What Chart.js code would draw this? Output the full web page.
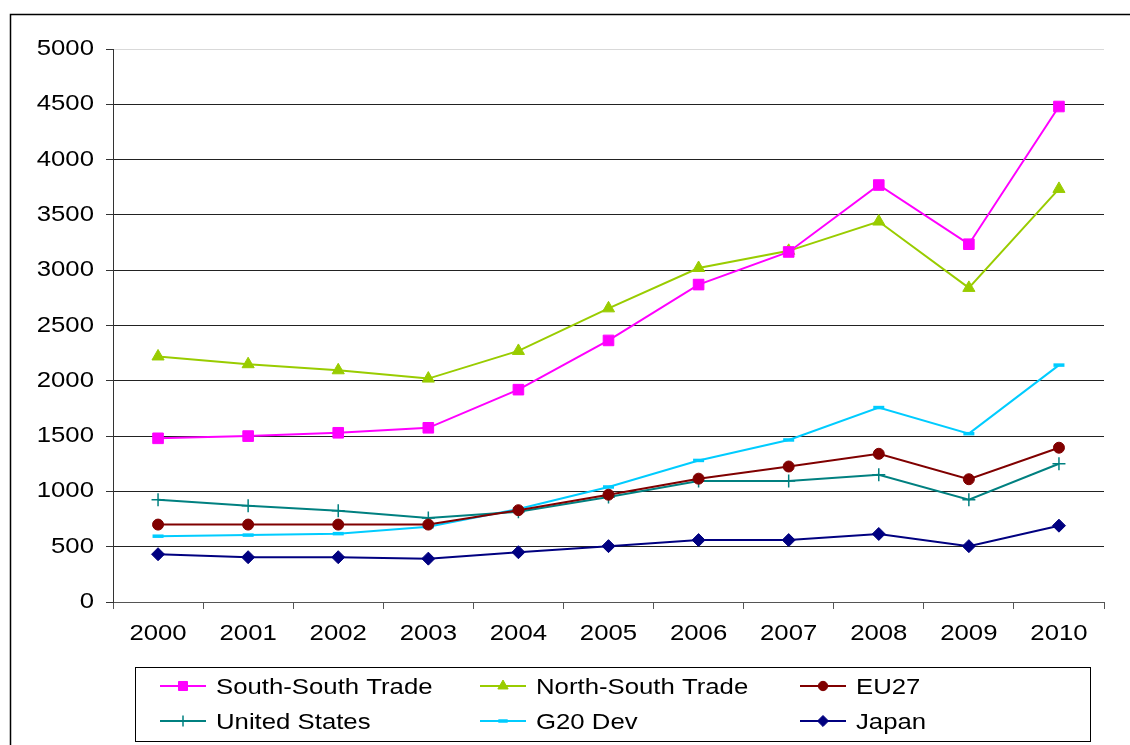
<!DOCTYPE html>
<html>
<head>
<meta charset="utf-8">
<script src="https://cdn.jsdelivr.net/npm/chart.js@4/dist/chart.umd.min.js"></script>
<style>
  html, body { margin: 0; padding: 0; background: #fff; }
  #wrap { position: relative; width: 1130px; height: 745px; }
</style>
</head>
<body>
<div id="wrap"><canvas id="c" width="1130" height="745"></canvas></div>
<script>
const years = ['2000','2001','2002','2003','2004','2005','2006','2007','2008','2009','2010'];
const southSouth = [1480, 1500, 1530, 1575, 1920, 2365, 2870, 3165, 3770, 3235, 4480];
const northSouth = [2220, 2150, 2095, 2020, 2270, 2655, 3020, 3175, 3440, 2840, 3735];
const eu27 = [700, 700, 700, 700, 830, 970, 1115, 1225, 1340, 1110, 1395];
const unitedStates = [925, 870, 825, 760, 815, 950, 1095, 1095, 1150, 925, 1250];
const g20Dev = [595, 605, 618, 680, 840, 1040, 1280, 1465, 1758, 1522, 2142];
const japan = [432, 405, 405, 392, 450, 505, 560, 560, 615, 505, 690];
const yTicks = [0, 500, 1000, 1500, 2000, 2500, 3000, 3500, 4000, 4500, 5000];

const FONT = '"Liberation Sans", Arial, sans-serif';
const TEXT_SIZE = 22;
const STRETCH = 1.17;

function ds(label, data, color, style, radius, pbw) {
  return {
    label, data,
    borderColor: color, backgroundColor: color,
    pointBackgroundColor: color, pointBorderColor: color,
    pointStyle: style, pointRadius: radius, pointHoverRadius: radius,
    pointBorderWidth: pbw, borderWidth: 2, tension: 0, fill: false
  };
}

const datasets = [
  ds('South-South Trade', southSouth, '#FF00FF', 'rect', 7.5, 1),
  ds('North-South Trade', northSouth, '#99CC00', 'triangle', 7, 1),
  ds('EU27', eu27, '#800000', 'circle', 5.5, 1),
  ds('United States', unitedStates, '#008080', 'cross', 6.5, 1.5),
  ds('G20 Dev', g20Dev, '#00CCFF', 'line', 5.5, 3.5),
  ds('Japan', japan, '#000080', 'rectRot', 6.5, 1)
];

function stretchedText(ctx, text, x, y, align) {
  ctx.save();
  ctx.translate(x, y);
  ctx.scale(STRETCH, 1);
  ctx.font = TEXT_SIZE + 'px ' + FONT;
  ctx.textAlign = align;
  ctx.textBaseline = 'middle';
  ctx.fillStyle = '#000';
  ctx.fillText(text, 0, 0);
  ctx.restore();
}

const framePlugin = {
  id: 'frame',
  beforeDraw(chart) {
    const ctx = chart.ctx;
    ctx.save();
    ctx.fillStyle = '#fff';
    ctx.fillRect(0, 0, chart.width, chart.height);
    ctx.strokeStyle = '#000';
    ctx.lineWidth = 1.5;
    ctx.beginPath();
    ctx.moveTo(10.5, 745);
    ctx.lineTo(10.5, 14.5);
    ctx.lineTo(1130, 14.5);
    ctx.stroke();
    ctx.restore();
  }
};

const tickLabelPlugin = {
  id: 'tickLabels',
  afterDraw(chart) {
    const ctx = chart.ctx;
    const ys = chart.scales.y;
    ys.ticks.forEach((t, i) => {
      const py = ys.getPixelForTick(i);
      stretchedText(ctx, String(t.value), 94, py, 'right');
    });
    const xs = chart.scales.x;
    xs.ticks.forEach((t, i) => {
      const px = xs.getPixelForTick(i);
      stretchedText(ctx, chart.data.labels[i], px, 634, 'center');
    });
  }
};

function drawMarker(ctx, d, x, y) {
  ctx.save();
  ctx.fillStyle = d.pointBackgroundColor;
  ctx.strokeStyle = d.pointBorderColor;
  ctx.lineWidth = d.pointBorderWidth;
  if (Chart.helpers && Chart.helpers.drawPoint) {
    Chart.helpers.drawPoint(ctx, {
      pointStyle: d.pointStyle, rotation: 0,
      radius: d.pointRadius * 0.85, borderWidth: d.pointBorderWidth
    }, x, y);
  }
  ctx.restore();
}

const legendPlugin = {
  id: 'customLegend',
  afterDraw(chart) {
    const ctx = chart.ctx;
    ctx.save();
    ctx.strokeStyle = '#000';
    ctx.lineWidth = 1;
    ctx.strokeRect(135.5, 667.5, 955, 74);
    const colX = [160, 480, 800];
    const rowY = [686, 721];
    chart.data.datasets.forEach((d, i) => {
      const x = colX[i % 3];
      const y = rowY[Math.floor(i / 3)];
      ctx.strokeStyle = d.borderColor;
      ctx.lineWidth = 2;
      ctx.beginPath();
      ctx.moveTo(x, y);
      ctx.lineTo(x + 46, y);
      ctx.stroke();
      drawMarker(ctx, d, x + 23, y);
      stretchedText(ctx, d.label, x + 56, y + 1.5, 'left');
    });
    ctx.restore();
  }
};

new Chart(document.getElementById('c'), {
  type: 'line',
  data: { labels: years, datasets },
  options: {
    responsive: false,
    animation: false,
    layout: { padding: { top: 49, right: 26, bottom: 93, left: 0 } },
    plugins: { legend: { display: false }, tooltip: { enabled: false } },
    scales: {
      x: {
        type: 'category',
        offset: true,
        afterFit(scale) { scale.height = 50; },
        grid: {
          offset: true, drawOnChartArea: false, drawTicks: true,
          tickLength: 7, color: '#555', tickColor: '#555'
        },
        border: { display: true, color: '#555', width: 1 },
        ticks: { color: 'rgba(0,0,0,0)', font: { family: FONT, size: 20 }, padding: 10, maxRotation: 0, autoSkip: false }
      },
      y: {
        min: 0, max: 5000,
        afterFit(scale) { scale.width = 113; },
        afterBuildTicks(scale) { scale.ticks = yTicks.map(v => ({ value: v })); },
        grid: {
          color: (c) => (c.tick && c.tick.value === 5000) ? '#d9d9d9' : '#222',
          tickColor: '#333', tickLength: 7, lineWidth: 1
        },
        border: { display: true, color: '#333', width: 1 },
        ticks: { color: 'rgba(0,0,0,0)', font: { family: FONT, size: 20 }, padding: 12 }
      }
    }
  },
  plugins: [framePlugin, tickLabelPlugin, legendPlugin]
});
</script>
</body>
</html>
